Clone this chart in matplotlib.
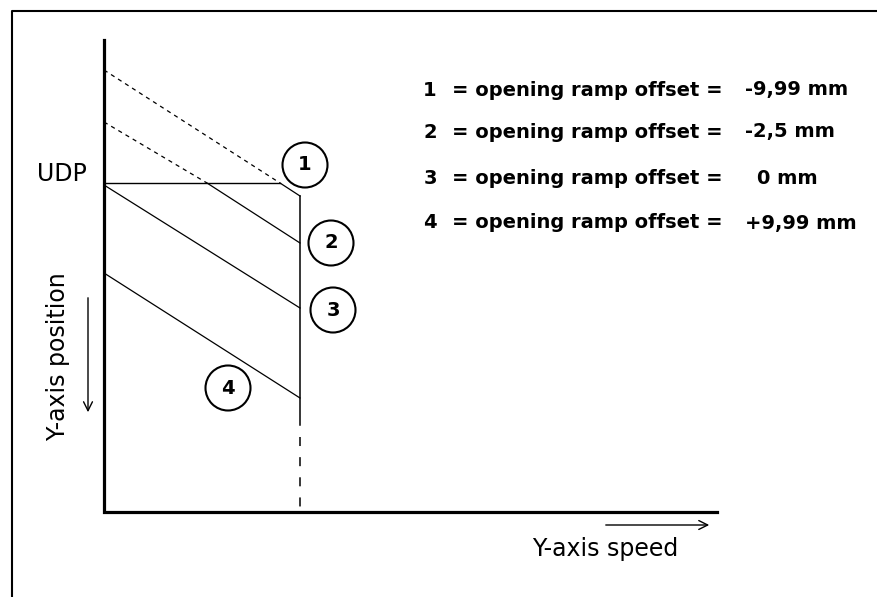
import matplotlib
matplotlib.use('Agg')
import matplotlib.pyplot as plt
from matplotlib.patches import Circle

plt.rcParams['font.family'] = ['DejaVu Sans']
plt.rcParams['lines.scale_dashes'] = False

# 示意图坐标（像素单位，y 向下）
origin_x, origin_y = 104, 512
axis_top, axis_right = 40, 717
udp_y = 183
limit_x = 300                      # 速度上限竖线
limit_solid_end = 425

# 四条斜坡: 起点 y、虚线终点 x、终点 y
ramp_start_y = [70, 122, 185, 273]
ramp_dash_end_x = [280, 207, None, None]
ramp_end_y = [196, 243, 308, 398]

# 编号圆圈
circle_labels = ['1', '2', '3', '4']
circle_x = [305, 331, 333, 228]
circle_y = [165, 243, 310, 388]
circle_r = 22.5

# 图例文字
legend_nums = ['1', '2', '3', '4']
legend_vals = ['-9,99 mm', '-2,5 mm', '0 mm', '+9,99 mm']
legend_val_x = [745, 745, 757, 745]
legend_y = [90, 132, 179, 223]

fig = plt.figure(figsize=(8.77, 5.97), dpi=100)
ax = fig.add_axes([0, 0, 1, 1])
ax.set_xlim(0, 877)
ax.set_ylim(597, 0)
ax.axis('off')

# 外框
ax.plot([12, 12, 877], [597, 11, 11], color='black', lw=1.5)

# 坐标轴
ax.plot([origin_x, origin_x, axis_right], [axis_top, origin_y, origin_y],
        color='black', lw=2.3, solid_joinstyle='miter')

# UDP 水平线
ax.plot([origin_x, ramp_dash_end_x[0]], [udp_y, udp_y], color='black', lw=1.0)
ax.text(37, 174, 'UDP', fontsize=17, ha='left', va='center')

# 斜坡（虚线部分在 UDP 之上）
for i in range(4):
    x0, y0, y1 = origin_x, ramp_start_y[i], ramp_end_y[i]
    xd = ramp_dash_end_x[i]
    if xd is None:
        ax.plot([x0, limit_x], [y0, y1], color='black', lw=0.9)
    else:
        ax.plot([x0, xd], [y0, udp_y], color='black', lw=0.9,
                linestyle=(0, (3, 3)))
        ax.plot([xd, limit_x], [udp_y, y1], color='black', lw=0.9)

# 速度上限竖线
ax.plot([limit_x, limit_x], [ramp_end_y[0], limit_solid_end], color='black', lw=1.1)
ax.plot([limit_x, limit_x], [limit_solid_end + 12, origin_y], color='black', lw=1.1,
        linestyle=(0, (6.5, 8)))

# 编号圆圈
for lab, cx, cy in zip(circle_labels, circle_x, circle_y):
    ax.add_patch(Circle((cx, cy), circle_r, fill=False, ec='black', lw=1.5))
    ax.text(cx, cy, lab, fontsize=14, fontweight='bold', ha='center', va='center')

# 图例
for num, val, vx, ly in zip(legend_nums, legend_vals, legend_val_x, legend_y):
    ax.text(430, ly, num, fontsize=14, fontweight='bold', ha='center', va='center')
    ax.text(452, ly, '= opening ramp offset =', fontsize=14, fontweight='bold',
            ha='left', va='center')
    ax.text(vx, ly, val, fontsize=14, fontweight='bold', ha='left', va='center')

# 轴标签与箭头
ax.text(605, 549, 'Y-axis speed', fontsize=17, ha='center', va='center')
ax.annotate('', xy=(712, 525), xytext=(603, 525),
            arrowprops=dict(arrowstyle='->', lw=1.0, color='black',
                            mutation_scale=16))
ax.text(58, 357, 'Y-axis position', fontsize=17, rotation=90,
        ha='center', va='center')
ax.annotate('', xy=(88, 415), xytext=(88, 295),
            arrowprops=dict(arrowstyle='->', lw=1.0, color='black',
                            mutation_scale=16))

fig.savefig('out.png', dpi=100)
